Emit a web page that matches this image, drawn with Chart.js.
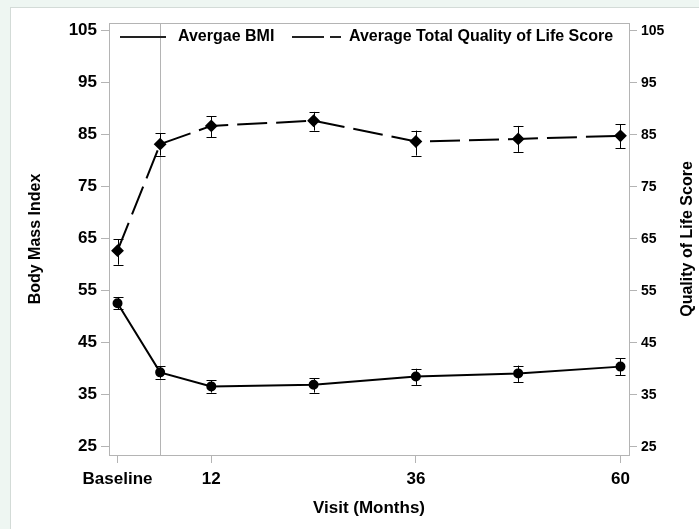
<!DOCTYPE html>
<html>
<head>
<meta charset="utf-8">
<script src="https://cdn.jsdelivr.net/npm/chart.js@4.4.0/dist/chart.umd.min.js"></script>
<style>
  html, body { margin: 0; padding: 0; }
  body { width: 699px; height: 529px; background: #eef6f2; position: relative; overflow: hidden; }
  .panel { position: absolute; left: 10px; top: 7px; right: -2px; bottom: -2px; background: #fff; border: 1px solid #d3dbd7; }
  canvas { position: absolute; left: 0; top: 0; }
</style>
</head>
<body>
<div class="panel"></div>
<canvas id="chart" width="699" height="529"></canvas>
<script>
// visit months (baseline drawn at month 1 like the original axis)
const visits = [1, 6, 12, 24, 36, 48, 60];
const bmiMean = [52.6, 39.3, 36.6, 36.9, 38.5, 39.1, 40.4];
const bmiLow  = [51.4, 38.1, 35.4, 35.4, 36.9, 37.4, 38.7];
const bmiHigh = [53.8, 40.5, 37.8, 38.2, 40.0, 40.6, 42.0];
const qolMean = [62.7, 83.2, 86.7, 87.7, 83.7, 84.2, 84.8];
const qolLow  = [60.0, 81.0, 84.5, 85.8, 81.0, 81.7, 82.4];
const qolHigh = [64.9, 85.3, 88.6, 89.4, 85.8, 86.7, 87.0];
const xTicks = [1, 12, 36, 60];
const xTickLabels = ["Baseline", "12", "36", "60"];
const yTicks = [25, 35, 45, 55, 65, 75, 85, 95, 105];
const refLineAt = 6;

const AXIS_GRAY = "#b4b4b4";
const FONT = "'Liberation Sans', Arial, sans-serif";

const toPoints = (vals) => visits.map((x, i) => ({ x: x, y: vals[i] }));

const framePlugin = {
    id: "frame",
    beforeDatasetsDraw(chart) {
        const { ctx, chartArea: a, scales } = chart;
        ctx.save();
        ctx.strokeStyle = AXIS_GRAY;
        ctx.lineWidth = 1;
        const rx = Math.round(scales.x.getPixelForValue(refLineAt)) + 0.5;
        ctx.beginPath();
        ctx.moveTo(rx, a.top);
        ctx.lineTo(rx, a.bottom);
        ctx.stroke();
        ctx.strokeRect(Math.round(a.left) + 0.5, Math.round(a.top) + 0.5,
            Math.round(a.right - a.left), Math.round(a.bottom - a.top));

        // error bars
        ctx.strokeStyle = "#000";
        const bars = [[bmiLow, bmiHigh, scales.y], [qolLow, qolHigh, scales.y2]];
        bars.forEach(([lo, hi, ys]) => {
            visits.forEach((v, i) => {
                const px = Math.round(scales.x.getPixelForValue(v)) + 0.5;
                const y1 = ys.getPixelForValue(lo[i]);
                const y2 = ys.getPixelForValue(hi[i]);
                ctx.beginPath();
                ctx.moveTo(px, y1); ctx.lineTo(px, y2);
                ctx.moveTo(px - 5, Math.round(y1) + 0.5); ctx.lineTo(px + 5, Math.round(y1) + 0.5);
                ctx.moveTo(px - 5, Math.round(y2) + 0.5); ctx.lineTo(px + 5, Math.round(y2) + 0.5);
                ctx.stroke();
            });
        });
        ctx.restore();
    },
    afterDraw(chart) {
        const { ctx, chartArea: a } = chart;
        const y = a.top + 14;
        ctx.save();
        ctx.strokeStyle = "#222";
        ctx.lineWidth = 2;
        ctx.beginPath();
        ctx.moveTo(a.left + 11, y); ctx.lineTo(a.left + 57, y);
        ctx.stroke();
        ctx.setLineDash([32, 6]);
        ctx.beginPath();
        ctx.moveTo(a.left + 183, y); ctx.lineTo(a.left + 232, y);
        ctx.stroke();
        ctx.setLineDash([]);
        ctx.fillStyle = "#000";
        ctx.font = "bold 16px " + FONT;
        ctx.textBaseline = "middle";
        ctx.fillText("Avergae BMI", a.left + 69, y);
        ctx.fillText("Average Total Quality of Life Score", a.left + 240, y);

        // right axis title reads bottom to top, like the left one
        ctx.translate(chart.width - 11, (a.top + a.bottom) / 2);
        ctx.rotate(-Math.PI / 2);
        ctx.textAlign = "center";
        ctx.fillText("Quality of Life Score", 0, 0);
        ctx.restore();
    },
};

const yScale = (pos, fontSize, width, title, titlePad) => ({
    type: "linear",
    position: pos,
    min: 23.4,
    max: 106.5,
    afterBuildTicks: (s) => { s.ticks = yTicks.map((v) => ({ value: v })); },
    afterFit: (s) => { s.width = width; },
    ticks: { color: "#000", font: { family: FONT, size: fontSize, weight: "bold" }, padding: 4 },
    grid: { drawOnChartArea: false, tickLength: 8, color: AXIS_GRAY },
    border: { display: false },
    title: { display: !!title, text: title, color: "#000",
        font: { family: FONT, size: 16, weight: "bold" }, padding: { top: titlePad, bottom: 0 } },
});

new Chart(document.getElementById("chart"), {
    type: "line",
    data: {
        datasets: [
            {
                label: "Avergae BMI",
                data: toPoints(bmiMean),
                yAxisID: "y",
                borderColor: "#000",
                backgroundColor: "#000",
                borderWidth: 2,
                pointStyle: "circle",
                pointRadius: 4,
                tension: 0,
            },
            {
                label: "Average Total Quality of Life Score",
                data: toPoints(qolMean),
                yAxisID: "y2",
                borderColor: "#000",
                backgroundColor: "#000",
                borderWidth: 2,
                borderDash: [30, 9],
                pointStyle: "rectRot",
                pointRadius: 5,
                tension: 0,
            },
        ],
    },
    options: {
        responsive: false,
        animation: false,
        devicePixelRatio: 1,
        layout: { padding: { top: 23, left: 0, right: 0, bottom: 0 } },
        plugins: { legend: { display: false }, tooltip: { enabled: false } },
        scales: {
            x: {
                type: "linear",
                min: 0,
                max: 61,
                afterBuildTicks: (s) => { s.ticks = xTicks.map((v) => ({ value: v })); },
                afterFit: (s) => { s.height = 74; },
                ticks: {
                    color: "#000",
                    font: { family: FONT, size: 17, weight: "bold" },
                    padding: 6,
                    maxRotation: 0,
                    autoSkip: false,
                    callback: (v) => xTickLabels[xTicks.indexOf(v)],
                },
                grid: { drawOnChartArea: false, tickLength: 8, color: AXIS_GRAY },
                border: { display: false },
                title: { display: true, text: "Visit (Months)", color: "#000",
                    font: { family: FONT, size: 17, weight: "bold" }, padding: { top: 0, bottom: 10 } },
            },
            y: yScale("left", 17, 109, "Body Mass Index", 26),
            y2: yScale("right", 14, 70, "", 0),
        },
    },
    plugins: [framePlugin],
});
</script>
</body>
</html>
